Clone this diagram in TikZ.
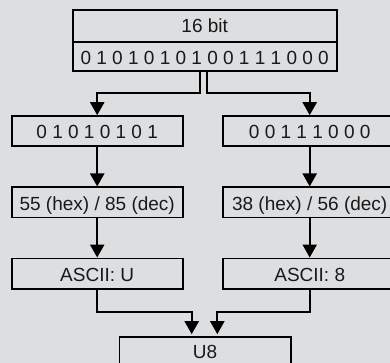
\documentclass[tikz,border=0pt]{standalone}
\usepackage{fontspec}
\setmainfont{Liberation Sans}
\usetikzlibrary{arrows.meta}
\definecolor{bg}{RGB}{221,222,224}
\definecolor{txt}{RGB}{25,25,25}
\begin{document}
\begin{tikzpicture}[x=1pt,y=-1pt,
  box/.style={draw=black, line width=1.6pt, rectangle, inner sep=0pt,
    minimum height=30pt, text height=17.5pt, text depth=2pt,
    font=\fontsize{19}{22}\selectfont, text=txt},
  conn/.style={line width=2.2pt, -{Triangle[width=14pt,length=13pt]}}]
\useasboundingbox (0,0) rectangle (390,363);
\fill[bg] (0,0) rectangle (390,363);
\begin{scope}
\clip (0,0) rectangle (390,363);
\node[box, minimum width=264pt, minimum height=31.7pt, text height=15pt] (t1) at (204.7,25.9) {16 bit};
\node[box, minimum width=264pt, minimum height=29.3pt] (t2) at (204.7,56.4) {0 1 0 1 0 1 0 1 0 0 1 1 1 0 0 0};
\node[box, minimum width=171pt] (b1) at (97.2,131) {0 1 0 1 0 1 0 1};
\node[box, minimum width=174pt] (b2) at (309.7,131) {0 0 1 1 1 0 0 0};
\node[box, minimum width=171pt] (h1) at (97.2,202.3) {55 (hex) / 85 (dec)};
\node[box, minimum width=174pt] (h2) at (309.7,202.3) {38 (hex) / 56 (dec)};
\node[box, minimum width=171pt, minimum height=30.7pt] (a1) at (97.2,273.7) {ASCII: U};
\node[box, minimum width=174pt, minimum height=30.7pt] (a2) at (309.7,273.7) {ASCII: 8};
\node[box, minimum width=171.4pt, text height=15pt] (u) at (205,352) {U8};
\end{scope}
\coordinate (j1) at (200,92.7);
\coordinate (j2) at (207.3,92.7);
\coordinate (m1) at (191.7,312.3);
\coordinate (m2) at (217.3,312.3);
\draw[conn] (t2.south -| j1) -- (j1) -| (b1.north);
\draw[conn] (t2.south -| j2) -- (j2) -| (b2.north);
\draw[conn] (b1.south) -- (h1.north);
\draw[conn] (b2.south) -- (h2.north);
\draw[conn] (h1.south) -- (a1.north);
\draw[conn] (h2.south) -- (a2.north);
\draw[conn, shorten >=2pt] (a1.south) |- (m1) -- (m1 |- u.north);
\draw[conn, shorten >=2pt] (a2.south) |- (m2) -- (m2 |- u.north);
\end{tikzpicture}
\end{document}
